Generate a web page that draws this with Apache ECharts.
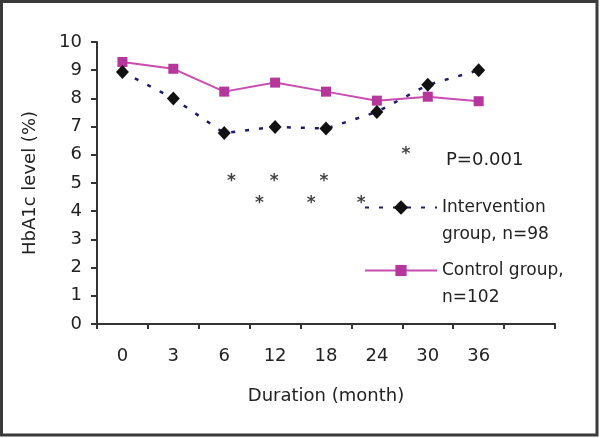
<!DOCTYPE html>
<html>
<head>
<meta charset="utf-8">
<script src="https://cdn.jsdelivr.net/npm/echarts@6/dist/echarts.min.js"></script>
<style>html,body{margin:0;padding:0;background:#fff}#c{width:600px;height:438px}</style>
</head>
<body>
<div id="c"></div>
<script>
const categories = ['0', '3', '6', '12', '18', '24', '30', '36', ''];
const interventionValues = [8.94, 8.0, 6.77, 6.99, 6.93, 7.52, 8.48, 9.0];
const controlValues = [9.29, 9.05, 8.24, 8.56, 8.24, 7.92, 8.06, 7.90];
// significance markers: [category position, HbA1c level]
const starPoints = [[2.14, 5.1], [2.69, 4.29], [2.98, 5.1], [3.71, 4.29], [3.96, 5.1], [4.69, 4.29], [5.57, 6.06]];
const interventionName = 'Intervention\ngroup, n=98';
const controlName = 'Control group,\nn=102';
const pText = 'P=0.001';
const yMin = 0, yMax = 10, yStep = 1;

const FONT = 'DejaVu Sans';
const TXT = '#222';
const chart = echarts.init(document.getElementById('c'), null, {renderer: 'canvas'});
const legendText = {fontFamily: FONT, fontSize: 17, color: TXT, lineHeight: 27};
const legendFmt = name => '\n' + name;
chart.setOption({
  animation: false,
  backgroundColor: '#fff',
  grid: {left: 97, right: 45, top: 42, bottom: 114},
  title: {text: pText, left: 446, top: 151, padding: 0, textStyle: {fontFamily: FONT, fontSize: 18, fontWeight: 'normal', color: TXT}},
  legend: [
    {data: [interventionName], left: 364, top: 167, padding: 0, itemWidth: 72, itemHeight: 18, textStyle: legendText, formatter: legendFmt},
    {data: [controlName], left: 364, top: 230, padding: 0, itemWidth: 72, itemHeight: 14, textStyle: legendText, formatter: legendFmt}
  ],
  xAxis: [{
    type: 'category', data: categories, boundaryGap: true,
    name: 'Duration (month)', nameLocation: 'middle', nameGap: 63,
    nameTextStyle: {fontFamily: FONT, fontSize: 18, color: TXT},
    axisLine: {onZero: false, lineStyle: {color: '#333', width: 2}},
    axisTick: {show: true, interval: 0, length: 5, lineStyle: {color: '#333', width: 2}},
    axisLabel: {interval: 0, margin: 23, fontFamily: FONT, fontSize: 18, color: TXT},
    splitLine: {show: false}
  }, {
    type: 'value', min: -0.5, max: categories.length - 0.5, show: false, position: 'bottom'
  }],
  yAxis: {
    type: 'value', min: yMin, max: yMax, interval: yStep,
    name: 'HbA1c level (%)', nameLocation: 'middle', nameGap: 58,
    nameTextStyle: {fontFamily: FONT, fontSize: 18, color: TXT},
    axisLine: {show: true, onZero: false, lineStyle: {color: '#333', width: 2}},
    axisTick: {show: true, length: 6, lineStyle: {color: '#333', width: 2}},
    axisLabel: {margin: 15, fontFamily: FONT, fontSize: 18, color: TXT},
    splitLine: {show: false}
  },
  series: [
    {
      name: controlName, type: 'line', data: controlValues,
      symbol: 'rect', symbolSize: 10,
      itemStyle: {color: '#b5379c'},
      lineStyle: {color: '#c94cb0', width: 2}
    },
    {
      name: interventionName, type: 'line', data: interventionValues,
      symbol: 'diamond', symbolSize: [13, 14],
      itemStyle: {color: '#111'},
      lineStyle: {color: '#1c1c6a', width: 2.5, type: [4, 10]}
    },
    {
      name: 'stars', type: 'scatter', xAxisIndex: 1, data: starPoints,
      symbolSize: 1, itemStyle: {color: 'rgba(0,0,0,0)'},
      label: {show: true, formatter: '*', position: 'inside', offset: [0, 1], fontFamily: FONT, fontSize: 17, fontWeight: 'bold', color: '#111'}
    }
  ],
  graphic: [{
    type: 'rect', shape: {x: 1.5, y: 1.5, width: 595.5, height: 433.5},
    style: {fill: null, stroke: '#3a3a3a', lineWidth: 3}, silent: true, z: 100
  }]
});
</script>
</body>
</html>
